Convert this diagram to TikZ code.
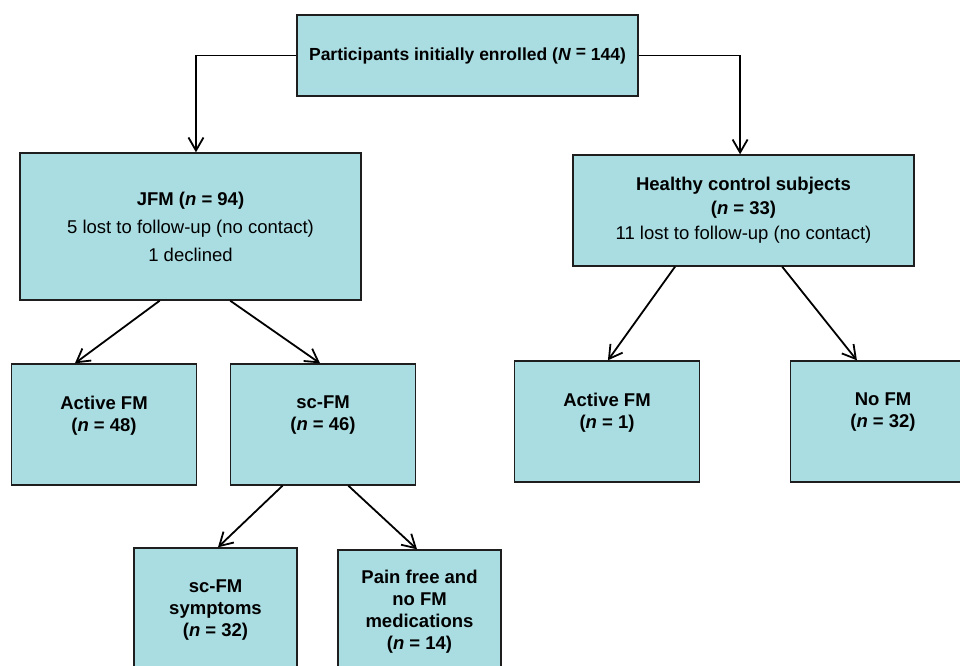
\documentclass[tikz,border=0pt]{standalone}
\usepackage{fontspec}
\setmainfont{Liberation Sans}
\usetikzlibrary{arrows.meta,calc}

\definecolor{boxfill}{RGB}{170,221,226}
\definecolor{boxline}{RGB}{30,30,30}

\tikzset{
  box/.style={draw=boxline, line width=1.4pt, fill=boxfill, align=center,
    inner sep=0pt, font=\fontsize{18.5}{22}\selectfont},
  smallbox/.style={box, minimum width=185pt, minimum height=121pt, text depth=22pt},
  lowbox/.style={box, minimum width=163pt, minimum height=120pt, text depth=0pt},
  flow/.style={-{Straight Barb[length=13pt,width=15pt,line width=1.8pt]}, line width=1.8pt, black}
}

\begin{document}
\begin{tikzpicture}[x=1pt, y=-1pt]
    \useasboundingbox (0,0) rectangle (960,665);
    \clip (0,0) rectangle (960,665);

    % Enrolment
    \node[box, minimum width=341pt, minimum height=81pt] (enrolled) at (467.5,55.5)
        {\fontsize{17.5}{22}\selectfont\textbf{Participants initially enrolled (\textit{N} \raisebox{3pt}{=} 144)}};

    % Study groups
    \node[box, minimum width=341pt, minimum height=147pt] (jfm) at (190.5,226.5)
        {\textbf{JFM (\textit{n} = 94)}\\[6pt] 5 lost to follow-up (no contact)\\[6pt] 1 declined};
    \node[box, minimum width=341pt, minimum height=111pt] (healthy) at (743.5,210.5)
        {\textbf{Healthy control subjects}\\[2pt] \textbf{(\textit{n} = 33)}\\[3pt] 11 lost to follow-up (no contact)};

    % Follow-up outcomes
    \node[smallbox] (activejfm) at (104,424.5) {\textbf{Active FM}\\ \textbf{(\textit{n} = 48)}};
    \node[smallbox] (scfm) at (323,424.5) {\textbf{sc-FM}\\ \textbf{(\textit{n} = 46)}};
    \node[smallbox] (activehc) at (607,421.5) {\textbf{Active FM}\\ \textbf{(\textit{n} = 1)}};
    \node[smallbox] (nofm) at (883,421.5) {\textbf{No FM}\\ \textbf{(\textit{n} = 32)}};

    % sc-FM split
    \node[lowbox] (symptoms) at (215.5,608) {\textbf{sc-FM}\\ \textbf{symptoms}\\ \textbf{(\textit{n} = 32)}};
    \node[lowbox] (painfree) at (419.5,610) {\textbf{Pain free and}\\ \textbf{no FM}\\ \textbf{medications}\\ \textbf{(\textit{n} = 14)}};

    % Arrows
    \draw[flow] (enrolled.west) -| ($(jfm.north west)!0.516!(jfm.north east)$);
    \draw[flow] (enrolled.east) -| ($(healthy.north west)!0.49!(healthy.north east)$);
    \draw[flow] ($(jfm.south west)!0.41!(jfm.south east)$) -- ($(activejfm.north west)!0.344!(activejfm.north east)$);
    \draw[flow] ($(jfm.south west)!0.616!(jfm.south east)$) -- ($(scfm.north west)!0.484!(scfm.north east)$);
    \draw[flow] ($(healthy.south west)!0.30!(healthy.south east)$) -- ($(activehc.north west)!0.505!(activehc.north east)$);
    \draw[flow] ($(healthy.south west)!0.613!(healthy.south east)$) -- ($(nofm.north west)!0.36!(nofm.north east)$);
    \draw[flow] ($(scfm.south west)!0.283!(scfm.south east)$) -- ($(symptoms.north west)!0.515!(symptoms.north east)$);
    \draw[flow] ($(scfm.south west)!0.636!(scfm.south east)$) -- ($(painfree.north west)!0.485!(painfree.north east)$);
\end{tikzpicture}
\end{document}
